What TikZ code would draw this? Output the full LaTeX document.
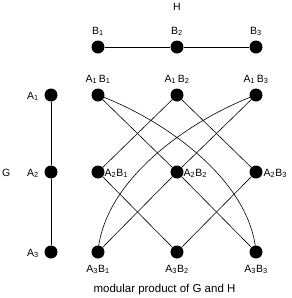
\documentclass[tikz,border=0pt]{standalone}
\usepackage{fontspec}
\setmainfont{Liberation Sans}
\newcommand{\sbs}[1]{\textsubscript{#1}}
\begin{document}
\begin{tikzpicture}[x=1pt,y=-1pt,
  dot/.style={circle,fill=black,minimum size=13pt,inner sep=0pt},
  lbl/.style={font=\fontsize{10.5}{12}\selectfont,inner sep=0pt},
  edge/.style={line width=0.6pt},
  pathedge/.style={line width=0.9pt}]
\useasboundingbox (0,0) rectangle (292,298);
% H
\node[dot] (b1) at (98,47) {};
\node[dot] (b2) at (177,47) {};
\node[dot] (b3) at (256,47) {};
\node[lbl,anchor=base] (lb1) at (98,34) {B\sbs{1}};
\node[lbl,anchor=base] (lb2) at (177,34) {B\sbs{2}};
\node[lbl,anchor=base] (lb3) at (256,34) {B\sbs{3}};
\node[lbl,anchor=base] (lh) at (177,10) {H};
\draw[pathedge] (b1) -- (b2) -- (b3);
% G
\node[dot] (a1) at (51,95) {};
\node[dot] (a2) at (51,172) {};
\node[dot] (a3) at (51,252) {};
\node[lbl,anchor=base east] (la1) at (39,99) {A\sbs{1}};
\node[lbl,anchor=base east] (la2) at (39,176) {A\sbs{2}};
\node[lbl,anchor=base east] (la3) at (39,256) {A\sbs{3}};
\node[lbl,anchor=base west] (lg) at (2,176) {G};
\draw[pathedge] (a1) -- (a2) -- (a3);
% product
\node[dot] (p11) at (98,95) {};
\node[dot] (p12) at (177,95) {};
\node[dot] (p13) at (256,95) {};
\node[dot] (p21) at (98,172) {};
\node[dot] (p22) at (177,172) {};
\node[dot] (p23) at (256,172) {};
\node[dot] (p31) at (98,252) {};
\node[dot] (p32) at (177,252) {};
\node[dot] (p33) at (256,252) {};
\node[lbl,anchor=base] (l11) at (98,82) {A\sbs{1}\,B\sbs{1}};
\node[lbl,anchor=base] (l12) at (177,82) {A\sbs{1}\,B\sbs{2}};
\node[lbl,anchor=base] (l13) at (256,82) {A\sbs{1}\,B\sbs{3}};
\node[lbl,anchor=base west] (l21) at (104.5,176) {A\sbs{2}B\sbs{1}};
\node[lbl,anchor=base west] (l22) at (183.5,176) {A\sbs{2}B\sbs{2}};
\node[lbl,anchor=base west] (l23) at (263.5,176) {A\sbs{2}B\sbs{3}};
\node[lbl,anchor=base] (l31) at (98,272) {A\sbs{3}B\sbs{1}};
\node[lbl,anchor=base] (l32) at (177,272) {A\sbs{3}B\sbs{2}};
\node[lbl,anchor=base] (l33) at (256,272) {A\sbs{3}B\sbs{3}};
\node[font=\fontsize{11.5}{13}\selectfont,inner sep=0pt,anchor=base] (cap) at (164.5,292) {modular product of G and H};
% edges
\draw[edge] (p11) -- (p22);
\draw[edge] (p12) -- (p21);
\draw[edge] (p12) -- (p23);
\draw[edge] (p13) -- (p22);
\draw[edge] (p21) -- (p32);
\draw[edge] (p22) -- (p31);
\draw[edge] (p22) -- (p33);
\draw[edge] (p23) -- (p32);
\draw[edge] (p11.center) .. controls (165,120) and (250,180) .. (p33.center);
\draw[edge] (p13.center) .. controls (189,120) and (104,180) .. (p31.center);
\end{tikzpicture}
\end{document}
